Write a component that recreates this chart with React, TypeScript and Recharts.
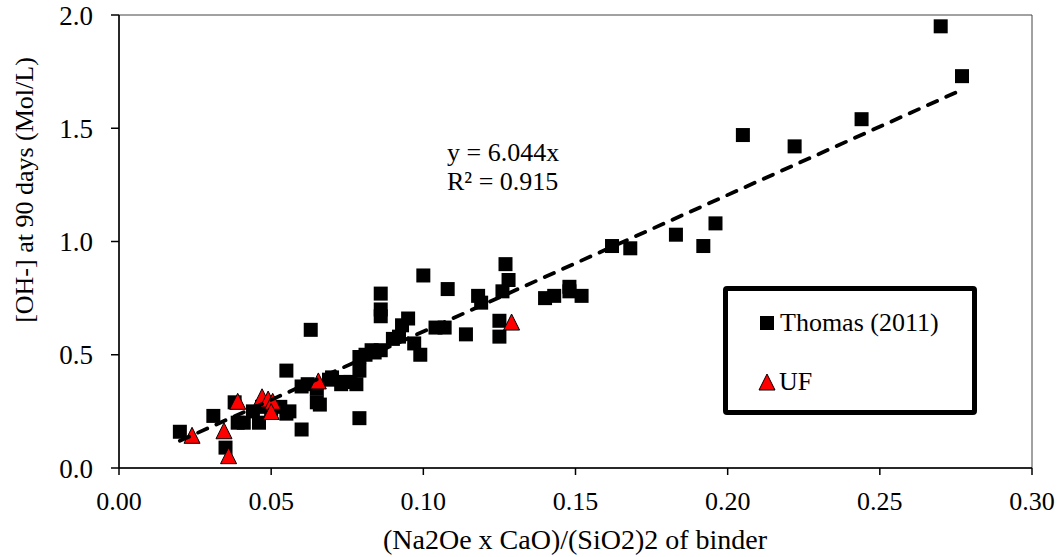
import { ScatterChart, Scatter, XAxis, YAxis, ReferenceArea, Legend } from "recharts";

const FONT = "'Liberation Serif', 'Times New Roman', serif";

// Thomas (2011) measurements: [binder index, OH- at 90 days]
const thomasPoints = [
  [0.02, 0.16], [0.031, 0.23], [0.035, 0.09], [0.038, 0.29], [0.039, 0.2],
  [0.041, 0.2], [0.044, 0.25], [0.046, 0.2], [0.047, 0.27], [0.05, 0.26],
  [0.053, 0.27], [0.055, 0.24], [0.055, 0.43], [0.056, 0.25], [0.06, 0.17],
  [0.06, 0.36], [0.062, 0.37], [0.063, 0.61], [0.065, 0.35], [0.065, 0.29],
  [0.066, 0.28], [0.069, 0.39], [0.07, 0.4], [0.073, 0.37], [0.074, 0.38],
  [0.076, 0.38], [0.078, 0.37], [0.079, 0.22], [0.079, 0.43], [0.079, 0.49],
  [0.081, 0.5], [0.083, 0.52], [0.084, 0.51], [0.086, 0.52], [0.086, 0.77],
  [0.086, 0.7], [0.086, 0.67], [0.09, 0.57], [0.092, 0.58], [0.093, 0.63],
  [0.095, 0.66], [0.097, 0.55], [0.099, 0.5], [0.1, 0.85], [0.104, 0.62],
  [0.107, 0.62], [0.108, 0.79], [0.114, 0.59], [0.118, 0.76], [0.119, 0.73],
  [0.125, 0.58], [0.125, 0.65], [0.126, 0.78], [0.127, 0.9], [0.128, 0.83],
  [0.14, 0.75], [0.143, 0.76], [0.148, 0.78], [0.148, 0.8], [0.152, 0.76],
  [0.162, 0.98], [0.168, 0.97], [0.183, 1.03], [0.192, 0.98], [0.196, 1.08],
  [0.205, 1.47], [0.222, 1.42], [0.244, 1.54], [0.27, 1.95], [0.277, 1.73],
];

// UF measurements
const ufPoints = [
  [0.024, 0.14], [0.0345, 0.16], [0.036, 0.05], [0.039, 0.29], [0.047, 0.31],
  [0.049, 0.3], [0.0505, 0.29], [0.05, 0.245], [0.0655, 0.38], [0.129, 0.64],
];

// linear fit y = 6.044x, drawn between first and last x
const trendPoints = [
  [0.02, 0.12],
  [0.277, 1.67],
];

const xTicks = [0, 0.05, 0.1, 0.15, 0.2, 0.25, 0.3];
const yTicks = [0, 0.5, 1, 1.5, 2];

const toXY = (pts: number[][]) => pts.map(([x, y]) => ({ x, y }));

const Square = (props: any) => {
  const { cx, cy } = props;
  return <rect x={cx - 7} y={cy - 7} width={14} height={14} fill="#000" />;
};

const Triangle = (props: any) => {
  const { cx, cy } = props;
  return (
    <polygon
      points={`${cx},${cy - 9} ${cx - 8},${cy + 7} ${cx + 8},${cy + 7}`}
      fill="#ff0000"
      stroke="#000"
      strokeWidth={1}
    />
  );
};

const NoDot = () => <g />;

const renderLegend = () => (
  <div
    style={{
      width: 254,
      height: 129,
      boxSizing: "border-box",
      border: "5px solid #000",
      borderRadius: 4,
      background: "#fff",
      position: "relative",
      fontFamily: FONT,
      fontSize: 26,
      color: "#000",
    }}
  >
    <div style={{ position: "absolute", left: 31, top: 17, display: "flex", alignItems: "center" }}>
      <svg width={16} height={16} style={{ marginRight: 5 }}>
        <rect x={1} y={1} width={14} height={14} fill="#000" />
      </svg>
      <span>Thomas (2011)</span>
    </div>
    <div style={{ position: "absolute", left: 30, top: 76, display: "flex", alignItems: "center" }}>
      <svg width={18} height={18} style={{ marginRight: 3 }}>
        <polygon points="9,1 1,17 17,17" fill="#ff0000" stroke="#000" strokeWidth={1} />
      </svg>
      <span>UF</span>
    </div>
  </div>
);

export default function App() {
  return (
    <div style={{ position: "absolute", left: 0, top: 0, width: 1058, height: 557, fontFamily: FONT }}>
      <ScatterChart
        width={1058}
        height={557}
        margin={{ top: 15, right: 26, left: 0, bottom: 0 }}
        style={{ fontFamily: FONT }}
      >
        <XAxis
          type="number"
          dataKey="x"
          domain={[0, 0.3]}
          ticks={xTicks}
          tickFormatter={(v: number) => v.toFixed(2)}
          height={89}
          stroke="#000"
          strokeWidth={1.5}
          tick={{ fill: "#000", fontSize: 26, fontFamily: FONT }}
          tickSize={7}
          tickMargin={17}
          allowDataOverflow
          label={{
            content: () => (
              <text x={575} y={539} textAnchor="middle" dominantBaseline="central" fontSize={28} fontFamily={FONT} fill="#000">
                (Na2Oe x CaO)/(SiO2)2 of binder
              </text>
            ),
          }}
        />
        <YAxis
          type="number"
          dataKey="y"
          domain={[0, 2]}
          ticks={yTicks}
          tickFormatter={(v: number) => v.toFixed(1)}
          width={119}
          stroke="#000"
          strokeWidth={1.5}
          tick={{ fill: "#000", fontSize: 27, fontFamily: FONT }}
          tickSize={8}
          tickMargin={18}
          allowDataOverflow
          label={{
            content: () => (
              <text
                x={24}
                y={190}
                transform="rotate(-90 24 190)"
                textAnchor="middle"
                dominantBaseline="central"
                fontSize={26}
                fontFamily={FONT}
                fill="#000"
              >
                [OH-] at 90 days (Mol/L)
              </text>
            ),
          }}
        />
        <ReferenceArea x1={0} x2={0.3} y1={0} y2={2} fill="none" stroke="#444" strokeWidth={1} ifOverflow="visible" />
        <Scatter name="Thomas (2011)" data={toXY(thomasPoints)} shape={<Square />} isAnimationActive={false} />
        <Scatter name="UF" data={toXY(ufPoints)} shape={<Triangle />} isAnimationActive={false} />
        <Scatter
          name="trend"
          data={toXY(trendPoints)}
          shape={<NoDot />}
          line={{ stroke: "#000", strokeWidth: 3.8, strokeDasharray: "10 10", strokeLinecap: "round" }}
          isAnimationActive={false}
          legendType="none"
        />
        <Legend
          content={renderLegend}
          layout="vertical"
          align="center"
          verticalAlign="middle"
          wrapperStyle={{ position: "absolute", left: 723, top: 286, width: 254, height: 129 }}
        />
      </ScatterChart>
      <div
        style={{
          position: "absolute",
          left: 447,
          top: 138,
          fontSize: 26,
          lineHeight: "29px",
          color: "#000",
          whiteSpace: "nowrap",
        }}
      >
        <div>y = 6.044x</div>
        <div>R² = 0.915</div>
      </div>
    </div>
  );
}
